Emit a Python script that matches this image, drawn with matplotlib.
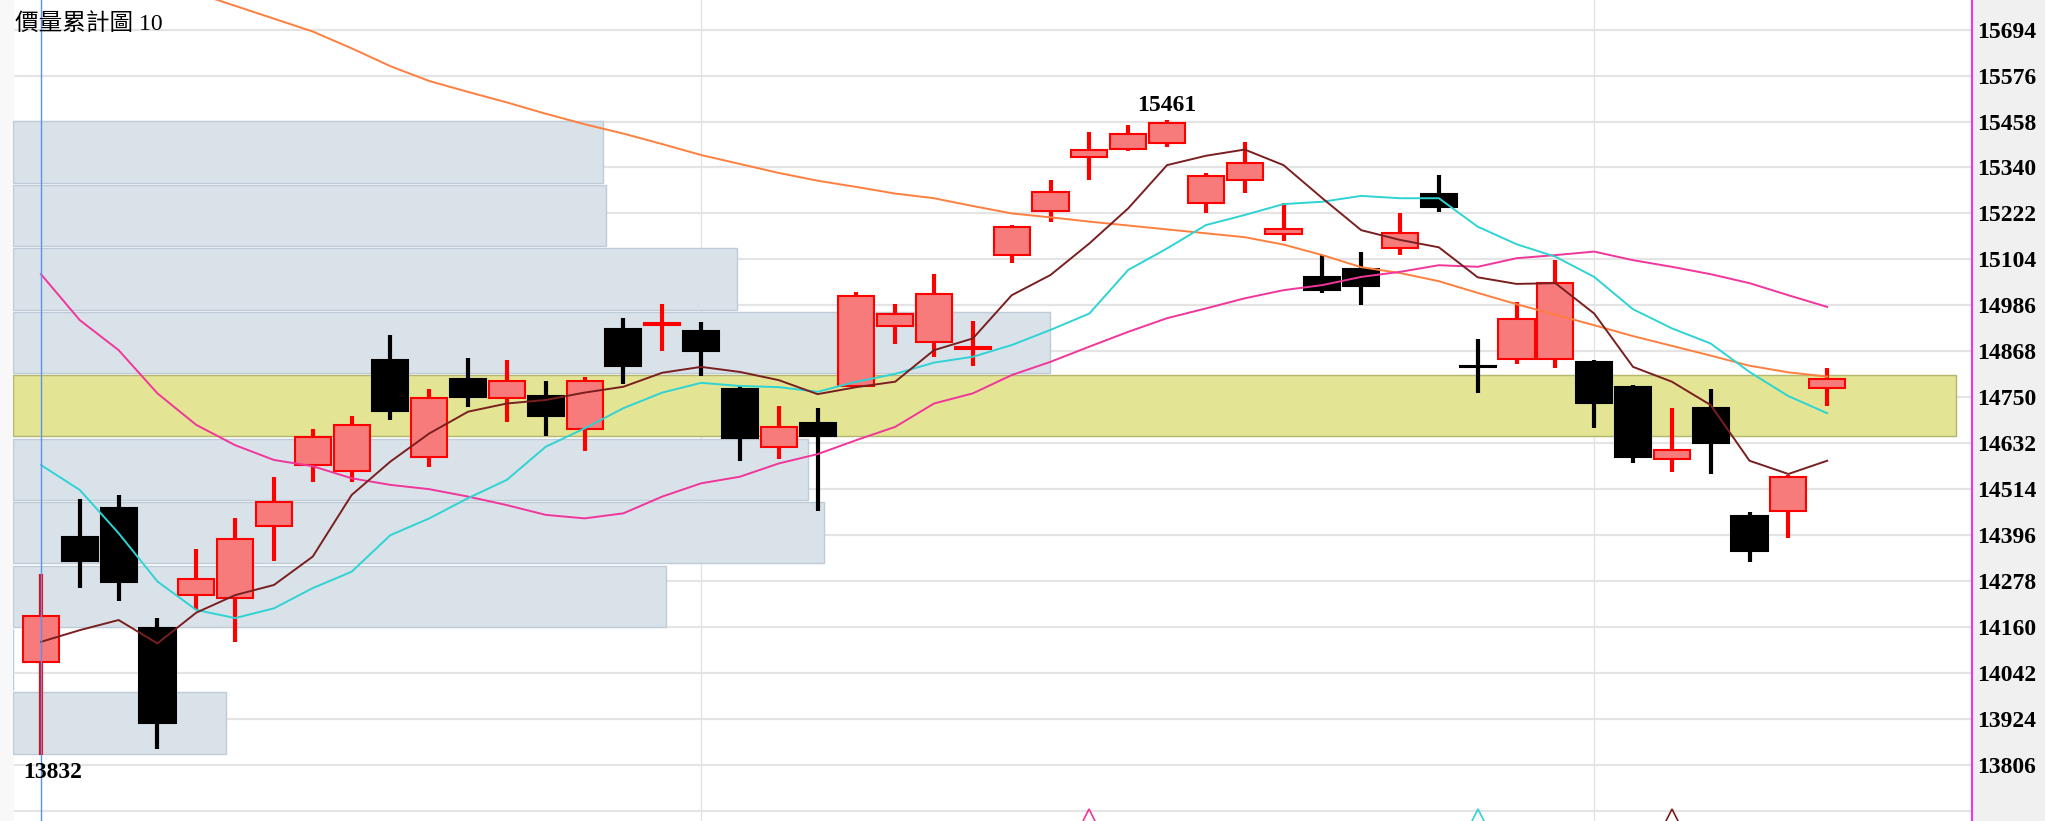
import matplotlib
matplotlib.use("Agg")
import matplotlib.pyplot as plt
from matplotlib.patches import Rectangle
import numpy as np

# 價量累計圖 10 : K線 + 均線 + 收盤價量分佈(10 區間)

opens = [14069, 14392, 14466, 14157, 14241, 14234, 14420, 14577, 14560, 14846,
         14597, 14797, 14747, 14753, 14668, 14925, 14936, 14920, 14771, 14623,
         14685, 14780, 14934, 14891, 14874, 15116, 15227, 15367, 15387, 15404,
         15249, 15308, 15169, 15058, 15079, 15132, 15272, 14829, 14848, 14848,
         14840, 14776, 14591, 14722, 14445, 14459, 14773]
highs = [14296, 14488, 14498, 14184, 14360, 14439, 14546, 14669, 14702, 14910,
         14770, 14852, 14846, 14792, 14803, 14953, 14989, 14942, 14778, 14728,
         14723, 15021, 14989, 15066, 14946, 15192, 15309, 15432, 15449, 15461,
         15326, 15406, 15250, 15115, 15122, 15224, 15320, 14899, 14995, 15102,
         14846, 14781, 14722, 14770, 14456, 14550, 14824]
lows = [13832, 14260, 14228, 13847, 14204, 14121, 14330, 14533, 14533, 14692,
        14570, 14725, 14687, 14650, 14613, 14783, 14869, 14805, 14586, 14591,
        14458, 14776, 14886, 14854, 14831, 15094, 15200, 15308, 15382, 15393,
        15222, 15275, 15152, 15018, 14987, 15115, 15226, 14762, 14836, 14826,
        14672, 14580, 14559, 14553, 14328, 14388, 14728]
closes = [14188, 14330, 14276, 13913, 14283, 14385, 14482, 14647, 14680, 14715,
          14749, 14751, 14792, 14703, 14792, 14831, 14940, 14869, 14645, 14674,
          14650, 15011, 14963, 15015, 14878, 15188, 15277, 15384, 15426, 15454,
          15319, 15352, 15181, 15025, 15036, 15171, 15238, 14827, 14951, 15043,
          14736, 14597, 14615, 14633, 14356, 14546, 14797]

ma5 = [14122, 14152, 14178, 14118, 14197, 14242, 14268, 14341, 14499, 14585,
       14657, 14713, 14734, 14743, 14762, 14777, 14813, 14828, 14815, 14794,
       14758, 14776, 14790, 14871, 14901, 15012, 15064, 15145, 15235, 15346,
       15370, 15386, 15346, 15261, 15179, 15154, 15135, 15058, 15041, 15043,
       14965, 14828, 14790, 14730, 14587, 14553, 14587]
ma10 = [14576, 14512, 14401, 14277, 14204, 14183, 14208, 14260, 14302, 14396,
        14439, 14491, 14538, 14623, 14670, 14722, 14762, 14787, 14779, 14776,
        14764, 14790, 14810, 14839, 14854, 14884, 14923, 14965, 15077, 15132,
        15192, 15218, 15246, 15252, 15267, 15261, 15261, 15188, 15143, 15111,
        15059, 14976, 14927, 14888, 14815, 14753, 14709]
ma20 = [15066, 14948, 14871, 14760, 14679, 14627, 14589, 14573, 14542, 14525,
        14514, 14495, 14473, 14448, 14439, 14452, 14495, 14529, 14546, 14580,
        14604, 14640, 14674, 14734, 14760, 14807, 14841, 14880, 14918, 14953,
        14978, 15004, 15025, 15038, 15059, 15072, 15089, 15085, 15107, 15115,
        15124, 15102, 15085, 15066, 15043, 15012, 14982]
ma60 = [15949, 15903, 15862, 15824, 15788, 15755, 15722, 15689, 15646, 15600,
        15562, 15534, 15507, 15478, 15451, 15427, 15400, 15372, 15349, 15326,
        15306, 15290, 15273, 15261, 15241, 15222, 15212, 15201, 15191, 15181,
        15171, 15161, 15142, 15115, 15084, 15069, 15048, 15018, 14989, 14962,
        14935, 14907, 14882, 14857, 14831, 14814, 14803]

# 價量分佈 (由低到高 10 區間)
n_bins = 10
vol_profile = [213, 0, 653, 811, 795, 1943, 1037, 724, 593, 590]

# 均線交叉訊號 (index, 顏色)
signal_idx = [27, 37, 42]
signal_colors = ["#f0369a", "#2fd3d3", "#7a1f1f"]

month_lines = [17, 40]
price_ticks = list(range(13688, 15695, 118))

c_up_face = "#f77b7b"
c_up = "#ff0000"
c_dn = "#000000"

W, H = 2045, 821
fig = plt.figure(figsize=(W / 100, H / 100), dpi=100, facecolor="#f0f0f0")
fig.patches.append(Rectangle((0, 0), 13 / W, 1, transform=fig.transFigure,
                             color="#f8f8f8", zorder=0))
rect = [13 / W, 0, (1972 - 13) / W, 1]

ax_bg = fig.add_axes(rect, zorder=0)
ax_vol = fig.add_axes(rect, sharey=ax_bg, zorder=1)
ax_main = fig.add_axes(rect, sharex=ax_bg, sharey=ax_bg, zorder=2)

n = len(closes)
x = np.arange(n)
ax_bg.set_xlim(-0.72, 49.73)
ax_bg.set_ylim(13662, 15770)

# background + grid
ax_bg.set_facecolor("white")
ax_bg.set_yticks(price_ticks)
ax_bg.set_yticklabels(["" if t == 13688 else str(t) for t in price_ticks])
ax_bg.yaxis.tick_right()
ax_bg.tick_params(axis="y", length=0, pad=4)
for lb in ax_bg.get_yticklabels():
    lb.set_fontfamily("Liberation Serif")
    lb.set_fontweight("bold")
    lb.set_fontsize(17)
ax_bg.set_xticks([])
ax_bg.grid(axis="y", color="#e4e4e4", lw=1.6)
for m in month_lines:
    ax_bg.axvline(m, color="#e2e2e2", lw=0.9)
for s in ["top", "bottom"]:
    ax_bg.spines[s].set_visible(False)
for s in ["left", "right"]:
    ax_bg.spines[s].set_color("#ff00ff")
    ax_bg.spines[s].set_linewidth(1.2)

# 價量分佈
lo, hi = min(lows), max(highs)
step = (hi - lo) / n_bins
centers = [lo + step * (i + 0.5) for i in range(n_bins)]
vmax = max(vol_profile)
face = ["#e3e594" if v == vmax else "#d9e2e9" for v in vol_profile]
edge = ["#b4b66c" if v == vmax else "#bfccd7" for v in vol_profile]
ax_vol.barh(centers, vol_profile, height=step * 0.965, color=face,
            edgecolor=edge, linewidth=1.0)
ax_vol.set_xlim(0, vmax / 0.992)
ax_vol.patch.set_visible(False)
ax_vol.axis("off")

# K線
ax_main.patch.set_visible(False)
ax_main.axis("off")
up = [c >= o for o, c in zip(opens, closes)]
for i in range(n):
    col = c_up if up[i] else c_dn
    ax_main.vlines(x[i], lows[i], highs[i], color=col, lw=3, zorder=3)
    bottom = min(opens[i], closes[i])
    h = max(abs(closes[i] - opens[i]), 3)
    ax_main.bar(x[i], h, bottom=bottom, width=0.93,
                color=c_up_face if up[i] else c_dn,
                edgecolor=col, linewidth=1.5, zorder=4)

# 均線
ax_main.plot(x, ma60, color="#ff7f3f", lw=1.4, zorder=5)
ax_main.plot(x, ma20, color="#f0369a", lw=1.4, zorder=5)
ax_main.plot(x, ma10, color="#2fd3d3", lw=1.4, zorder=5)
ax_main.plot(x, ma5, color="#7a1f1f", lw=1.4, zorder=5)

ax_main.axvline(0, color="#5b8ff9", lw=1.0, zorder=6)

for i, c in zip(signal_idx, signal_colors):
    ax_main.plot([i], [13671], marker="^", ms=11, mfc="none", mec=c,
                 mew=1.2, zorder=6, clip_on=True)

# 最高 / 最低價
i_hi = int(np.argmax(highs))
i_lo = int(np.argmin(lows))
ax_main.text(i_hi, hi + 12, str(hi), ha="center", va="bottom", fontsize=17,
             fontweight="bold", family="Liberation Serif", zorder=7)
ax_main.text(i_lo - 0.46, lo - 18, str(lo), ha="left", va="top", fontsize=17,
             fontweight="bold", family="Liberation Serif", zorder=7)

fig.text(15 / W, 1 - 24 / H, "價量累計圖 10", ha="left", va="center",
         fontsize=17, family=["Liberation Serif", "Noto Sans CJK TC"])

fig.savefig("out.png", dpi=100, facecolor=fig.get_facecolor())
